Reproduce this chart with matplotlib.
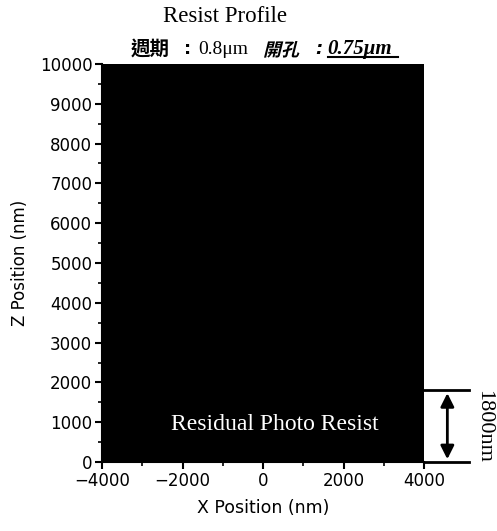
import matplotlib
matplotlib.use("Agg")
import matplotlib.pyplot as plt
from matplotlib.ticker import MultipleLocator
from matplotlib.textpath import TextPath
from matplotlib.patches import PathPatch
from matplotlib.font_manager import FontProperties
from matplotlib.transforms import Affine2D

# data
profile_x = [-4000, 4000]
profile_top = [10000, 10000]
residual_height = 1800
x_ticks = [-4000, -2000, 0, 2000, 4000]
y_ticks = [0, 1000, 2000, 3000, 4000, 5000, 6000, 7000, 8000, 9000, 10000]

W, H = 497, 531
fig = plt.figure(figsize=(W / 100, H / 100), dpi=100)
ax = fig.add_axes([102 / W, 1 - 462 / H, 322 / W, 398 / H])

ax.fill_between(profile_x, 0, profile_top, color="black", linewidth=0)
ax.set_xlim(-4000, 4000)
ax.set_ylim(0, 10000)
ax.set_xticks(x_ticks)
ax.set_yticks(y_ticks)
ax.xaxis.set_minor_locator(MultipleLocator(1000))
ax.yaxis.set_minor_locator(MultipleLocator(500))
for s in ["top", "right"]:
    ax.spines[s].set_visible(False)
for s in ["left", "bottom"]:
    ax.spines[s].set_linewidth(1.5)
ax.tick_params(which="major", direction="out", length=5, width=1.5, labelsize=12, pad=2)
ax.tick_params(which="minor", direction="out", length=3, width=1.2)
tf = "DejaVu Sans"
for lab in ax.get_xticklabels() + ax.get_yticklabels():
    lab.set_family(tf)
ax.set_xlabel("X Position (nm)", fontsize=12.5, family=tf, labelpad=7)
ax.set_ylabel("Z Position (nm)", fontsize=12, family=tf, labelpad=8)

ax.text(300, 930, "Residual Photo Resist", color="white", fontsize=17,
        family="Liberation Serif", ha="center", va="center")

# dimension annotation
ax.plot([4000, 5120], [residual_height, residual_height], color="black", lw=2, clip_on=False)
ax.plot([4000, 5120], [0, 0], color="black", lw=2, clip_on=False)
ax.annotate("", xy=(4580, 0), xytext=(4580, residual_height),
            arrowprops=dict(arrowstyle="<|-|>", color="black", lw=2, mutation_scale=20),
            annotation_clip=False)
ax.text(5480, residual_height / 2, "1800nm", rotation=-90, fontsize=16,
        family="Liberation Serif", ha="center", va="center", clip_on=False)

fig.text(225 / W, 1 - 17 / H, "Resist Profile", fontsize=16.5, family="Liberation Serif",
         ha="center", va="center")

cjk = ["Noto Sans CJK TC", "DejaVu Sans"]
yc = 1 - 49 / H
fig.text(131 / W, yc, "週期", fontsize=14, family=cjk, weight="bold", ha="left", va="center")
fig.text(188 / W, yc, ":", fontsize=13, family="DejaVu Sans", weight="bold", ha="center",
         va="center")
fig.text(198 / W, yc, "0.8μm", fontsize=14, family="Liberation Serif", ha="left",
         va="center")

# slanted bold CJK "開孔"
fp = FontProperties(family="Noto Sans CJK TC", weight="bold")
tp = TextPath((0, 0), "開孔", prop=fp, size=18)
tr = Affine2D().skew_deg(14, 0).translate(263, H - 56)
fig.patches.append(PathPatch(tp, transform=tr, color="black", lw=0))
fig.text(319 / W, yc, ":", fontsize=13, family="DejaVu Sans", weight="bold",
         style="italic", ha="center", va="center")
fig.text(327 / W, yc, "0.75μm", fontsize=15, family="Liberation Serif",
         weight="bold", style="italic", ha="left", va="center")
fig.lines.append(plt.Line2D([328 / W, 398 / W], [1 - 57 / H, 1 - 57 / H],
                            transform=fig.transFigure, color="black", lw=1.5))

fig.savefig("out.png", dpi=100)
